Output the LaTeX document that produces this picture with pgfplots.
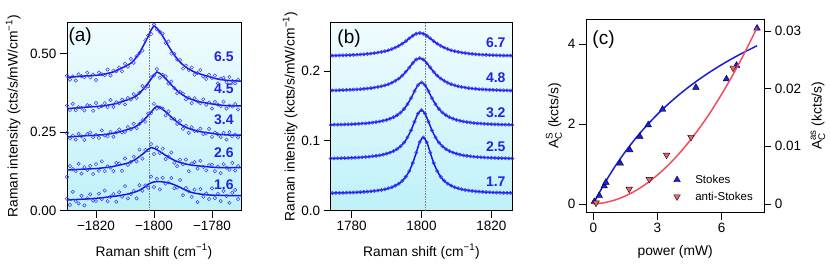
\documentclass[border=0pt]{standalone}
\usepackage{fontspec}
\setmainfont{Liberation Sans}
\usepackage{amsmath}
\usepackage{pgfplots}
\usepackage{pgfplotstable}
\pgfplotsset{compat=1.18}
\definecolor{bgtop}{RGB}{241,252,254}
\definecolor{bgbot}{RGB}{190,241,249}
\definecolor{ptblue}{RGB}{55,55,255}
\definecolor{lnblue}{RGB}{25,25,225}
\definecolor{lblblue}{RGB}{35,35,230}
\definecolor{sblue}{RGB}{30,30,235}
\definecolor{asred}{RGB}{240,95,105}
\definecolor{lnred}{RGB}{245,75,90}
\newcommand\tfont{\fontsize{13.5}{15}\selectfont}
\newcommand\lfont{\fontsize{13.8}{16}\selectfont}
\newcommand\nfont{\fontsize{14}{16}\selectfont\bfseries}
\newcommand\pfont{\fontsize{19}{21}\selectfont}
\newcommand\Aq[1]{$\text{A}^{\text{#1}}_{\text{C}}$}

\pgfplotsset{
 base/.style={
  scale only axis,
  axis line style={black, line width=0.8pt},
  tick style={black, line width=0.8pt},
  major tick length=7pt,
  tick align=outside,
  ticklabel style={font=\tfont},
  scaled ticks=false,
  /pgf/number format/assume math mode=true,
 },
 panel/.style={
  base,
  xtick pos=left, ytick pos=left,
  axis background/.style={top color=bgtop, bottom color=bgbot},
 },
 pts/.style={only marks, mark=o, mark size=1.7pt, ptblue, mark options={line width=0.5pt}},
 fitl/.style={lnblue, line width=1.5pt},
 dash/.style={gray, densely dotted, line width=0.6pt},
}

% panel (a) tables: x fit dat
\pgfplotstableread{
x fit dat
-1830 0.4240 0.4290
-1829 0.4247 0.4167
-1828 0.4253 0.4273
-1827 0.4260 0.4140
-1826 0.4266 0.4336
-1825 0.4276 0.4276
-1824 0.4282 0.4242
-1823 0.4287 0.4387
-1822 0.4292 0.4232
-1821 0.4299 0.4329
-1820 0.4305 0.4155
-1819 0.4312 0.4392
-1818 0.4326 0.4336
-1817 0.4345 0.4315
-1816 0.4365 0.4485
-1815 0.4389 0.4299
-1814 0.4412 0.4452
-1813 0.4453 0.4433
-1812 0.4493 0.4553
-1811 0.4542 0.4432
-1810 0.4583 0.4673
-1809 0.4632 0.4582
-1808 0.4689 0.4829
-1807 0.4772 0.4702
-1806 0.4889 0.4909
-1805 0.5023 0.5013
-1804 0.5191 0.5091
-1803 0.5359 0.5419
-1802 0.5544 0.5574
-1801 0.5746 0.5616
-1800 0.5880 0.5920
-1799 0.5810 0.5770
-1798 0.5689 0.5689
-1797 0.5551 0.5631
-1796 0.5396 0.5336
-1795 0.5233 0.5383
-1794 0.5086 0.4996
-1793 0.4948 0.4988
-1792 0.4827 0.4807
-1791 0.4723 0.4793
-1790 0.4636 0.4516
-1789 0.4566 0.4616
-1788 0.4505 0.4475
-1787 0.4452 0.4552
-1786 0.4407 0.4327
-1785 0.4371 0.4381
-1784 0.4344 0.4474
-1783 0.4316 0.4266
-1782 0.4289 0.4189
-1781 0.4261 0.4321
-1780 0.4234 0.4214
-1779 0.4206 0.4296
-1778 0.4187 0.4047
-1777 0.4171 0.4201
-1776 0.4159 0.4229
-1775 0.4147 0.4087
-1774 0.4140 0.4250
-1773 0.4133 0.4123
-1772 0.4127 0.4047
-1771 0.4124 0.4164
-1770 0.4120 nan
}\taA
\pgfplotstableread{
x fit dat
-1830 0.3250 0.3340
-1829 0.3251 0.3201
-1828 0.3259 0.3399
-1827 0.3265 0.3195
-1826 0.3272 0.3292
-1825 0.3279 0.3269
-1824 0.3288 0.3188
-1823 0.3295 0.3355
-1822 0.3301 0.3331
-1821 0.3307 0.3177
-1820 0.3313 0.3423
-1819 0.3321 0.3281
-1818 0.3328 0.3328
-1817 0.3340 0.3420
-1816 0.3355 0.3295
-1815 0.3371 0.3521
-1814 0.3389 0.3299
-1813 0.3407 0.3447
-1812 0.3436 0.3416
-1811 0.3465 0.3535
-1810 0.3501 0.3381
-1809 0.3530 0.3580
-1808 0.3565 0.3535
-1807 0.3606 0.3706
-1806 0.3663 0.3583
-1805 0.3742 0.3752
-1804 0.3834 0.3964
-1803 0.3947 0.3897
-1802 0.4060 0.3960
-1801 0.4185 0.4245
-1800 0.4320 0.4300
-1799 0.4411 0.4501
-1798 0.4368 0.4228
-1797 0.4291 0.4321
-1796 0.4202 0.4272
-1795 0.4103 0.4043
-1794 0.3998 0.4108
-1793 0.3904 0.3894
-1792 0.3816 0.3736
-1791 0.3739 0.3779
-1790 0.3673 0.3723
-1789 0.3619 0.3539
-1788 0.3575 0.3595
-1787 0.3537 0.3417
-1786 0.3505 0.3575
-1785 0.3478 0.3478
-1784 0.3457 0.3417
-1783 0.3442 0.3542
-1782 0.3426 0.3366
-1781 0.3410 0.3440
-1780 0.3395 0.3245
-1779 0.3380 0.3460
-1778 0.3364 0.3374
-1777 0.3355 0.3325
-1776 0.3347 0.3467
-1775 0.3341 0.3251
-1774 0.3336 0.3340
-1773 0.3334 0.3314
-1772 0.3331 0.3391
-1771 0.3330 0.3220
-1770 0.3330 nan
}\taB
\pgfplotstableread{
x fit dat
-1830 0.2350 0.2470
-1829 0.2351 0.2301
-1828 0.2357 0.2387
-1827 0.2362 0.2262
-1826 0.2367 0.2447
-1825 0.2373 0.2363
-1824 0.2381 0.2251
-1823 0.2386 0.2436
-1822 0.2391 0.2491
-1821 0.2395 0.2335
-1820 0.2401 0.2421
-1819 0.2407 0.2317
-1818 0.2412 0.2552
-1817 0.2423 0.2393
-1816 0.2435 0.2365
-1815 0.2448 0.2508
-1814 0.2463 0.2353
-1813 0.2478 0.2488
-1812 0.2503 0.2583
-1811 0.2528 0.2488
-1810 0.2557 0.2507
-1809 0.2581 0.2661
-1808 0.2610 0.2590
-1807 0.2645 0.2765
-1806 0.2693 0.2623
-1805 0.2761 0.2761
-1804 0.2838 0.2878
-1803 0.2933 0.2833
-1802 0.3029 0.3089
-1801 0.3134 0.3104
-1800 0.3249 0.3399
-1799 0.3326 0.3246
-1798 0.3289 0.3279
-1797 0.3223 0.3253
-1796 0.3148 0.3028
-1795 0.3063 0.3153
-1794 0.2974 0.2934
-1793 0.2894 0.2914
-1792 0.2819 0.2759
-1791 0.2753 0.2863
-1790 0.2697 0.2607
-1789 0.2650 0.2700
-1788 0.2613 0.2473
-1787 0.2581 0.2651
-1786 0.2553 0.2533
-1785 0.2530 0.2540
-1784 0.2512 0.2612
-1783 0.2498 0.2438
-1782 0.2485 0.2455
-1781 0.2472 0.2602
-1780 0.2459 0.2349
-1779 0.2444 0.2484
-1778 0.2431 0.2431
-1777 0.2423 0.2343
-1776 0.2416 0.2476
-1775 0.2411 0.2261
-1774 0.2406 0.2496
-1773 0.2404 0.2364
-1772 0.2402 0.2422
-1771 0.2401 0.2331
-1770 0.2400 nan
}\taC
\pgfplotstableread{
x fit dat
-1830 0.1293 0.1073
-1829 0.1298 0.1418
-1828 0.1303 0.1323
-1827 0.1308 0.1258
-1826 0.1313 0.1493
-1825 0.1319 0.1179
-1824 0.1322 0.1382
-1823 0.1326 0.1296
-1822 0.1332 0.1422
-1821 0.1336 0.1166
-1820 0.1340 0.1480
-1819 0.1349 0.1269
-1818 0.1358 0.1568
-1817 0.1368 0.1258
-1816 0.1380 0.1410
-1815 0.1392 0.1372
-1814 0.1410 0.1260
-1813 0.1429 0.1519
-1812 0.1450 0.1500
-1811 0.1468 0.1268
-1810 0.1490 0.1660
-1809 0.1515 0.1455
-1808 0.1550 0.1550
-1807 0.1600 0.1720
-1806 0.1655 0.1565
-1805 0.1724 0.1944
-1804 0.1794 0.1654
-1803 0.1870 0.1930
-1802 0.1953 0.1923
-1801 0.2009 0.2119
-1800 0.1983 0.1803
-1799 0.1936 0.2016
-1798 0.1884 0.1834
-1797 0.1824 0.1974
-1796 0.1760 0.1640
-1795 0.1704 0.1724
-1794 0.1651 0.1851
-1793 0.1604 0.1524
-1792 0.1565 0.1415
-1791 0.1532 0.1622
-1790 0.1506 0.1476
-1789 0.1484 0.1624
-1788 0.1465 0.1255
-1787 0.1449 0.1499
-1786 0.1437 0.1547
-1785 0.1428 0.1338
-1784 0.1419 0.1589
-1783 0.1411 0.1391
-1782 0.1402 0.1282
-1781 0.1392 0.1452
-1780 0.1384 0.1464
-1779 0.1378 0.1258
-1778 0.1374 0.1404
-1777 0.1372 0.1192
-1776 0.1369 0.1479
-1775 0.1368 0.1368
-1774 0.1367 0.1307
-1773 0.1367 0.1517
-1772 0.1367 0.1277
-1771 0.1368 0.1418
-1770 0.1368 nan
}\taD
\pgfplotstableread{
x fit dat
-1830 0.0340 0.0380
-1829 0.0345 0.0185
-1828 0.0350 0.0600
-1827 0.0355 0.0305
-1826 0.0360 0.0230
-1825 0.0365 0.0475
-1824 0.0370 0.0170
-1823 0.0375 0.0395
-1822 0.0380 0.0520
-1821 0.0387 0.0317
-1820 0.0393 0.0303
-1819 0.0402 0.0542
-1818 0.0412 0.0372
-1817 0.0422 0.0642
-1816 0.0433 0.0303
-1815 0.0445 0.0445
-1814 0.0456 0.0526
-1813 0.0467 0.0287
-1812 0.0480 0.0590
-1811 0.0495 0.0445
-1810 0.0510 0.0780
-1809 0.0530 0.0390
-1808 0.0553 0.0533
-1807 0.0580 0.0630
-1806 0.0612 0.0392
-1805 0.0650 0.0810
-1804 0.0705 0.0635
-1803 0.0765 0.0805
-1802 0.0840 0.0730
-1801 0.0885 0.1085
-1800 0.0915 0.0755
-1799 0.0925 0.1015
-1798 0.0925 0.0675
-1797 0.0917 0.1047
-1796 0.0902 0.0862
-1795 0.0883 0.0903
-1794 0.0860 0.1040
-1793 0.0823 0.0713
-1792 0.0786 0.0736
-1791 0.0745 0.0975
-1790 0.0695 0.0495
-1789 0.0648 0.0718
-1788 0.0612 0.0612
-1787 0.0580 0.0440
-1786 0.0558 0.0668
-1785 0.0542 0.0272
-1784 0.0528 0.0688
-1783 0.0517 0.0447
-1782 0.0508 0.0548
-1781 0.0500 0.0370
-1780 0.0495 0.0715
-1779 0.0490 0.0400
-1778 0.0488 0.0538
-1777 0.0486 0.0306
-1776 0.0485 0.0625
-1775 0.0484 0.0464
-1774 0.0483 0.0253
-1773 0.0482 0.0572
-1772 0.0481 0.0661
-1771 0.0480 0.0370
-1770 0.0480 nan
}\taE

% panel (b) tables
\pgfplotstableread{
x y
1773.5 0.2220
1774.5 0.2221
1775.5 0.2222
1776.5 0.2223
1777.5 0.2225
1778.5 0.2227
1779.5 0.2229
1780.5 0.2231
1781.5 0.2234
1782.5 0.2237
1783.5 0.2241
1784.5 0.2245
1785.5 0.2250
1786.5 0.2257
1787.5 0.2264
1788.5 0.2273
1789.5 0.2284
1790.5 0.2297
1791.5 0.2314
1792.5 0.2335
1793.5 0.2360
1794.5 0.2391
1795.5 0.2427
1796.5 0.2467
1797.5 0.2505
1798.5 0.2534
1799.5 0.2545
1800.5 0.2534
1801.5 0.2505
1802.5 0.2467
1803.5 0.2427
1804.5 0.2391
1805.5 0.2360
1806.5 0.2335
1807.5 0.2314
1808.5 0.2297
1809.5 0.2284
1810.5 0.2273
1811.5 0.2264
1812.5 0.2257
1813.5 0.2250
1814.5 0.2245
1815.5 0.2241
1816.5 0.2237
1817.5 0.2234
1818.5 0.2231
1819.5 0.2229
1820.5 0.2227
1821.5 0.2225
1822.5 0.2223
1823.5 0.2222
1824.5 0.2221
1825.5 0.2220
1826.5 0.2220
}\tbA
\pgfplotstableread{
x y
1773.5 0.1721
1774.5 0.1722
1775.5 0.1723
1776.5 0.1725
1777.5 0.1727
1778.5 0.1729
1779.5 0.1731
1780.5 0.1734
1781.5 0.1737
1782.5 0.1740
1783.5 0.1745
1784.5 0.1750
1785.5 0.1755
1786.5 0.1763
1787.5 0.1771
1788.5 0.1782
1789.5 0.1795
1790.5 0.1811
1791.5 0.1832
1792.5 0.1859
1793.5 0.1892
1794.5 0.1935
1795.5 0.1988
1796.5 0.2050
1797.5 0.2114
1798.5 0.2165
1799.5 0.2185
1800.5 0.2165
1801.5 0.2114
1802.5 0.2050
1803.5 0.1988
1804.5 0.1935
1805.5 0.1892
1806.5 0.1859
1807.5 0.1832
1808.5 0.1811
1809.5 0.1795
1810.5 0.1782
1811.5 0.1771
1812.5 0.1763
1813.5 0.1755
1814.5 0.1750
1815.5 0.1745
1816.5 0.1740
1817.5 0.1737
1818.5 0.1734
1819.5 0.1731
1820.5 0.1729
1821.5 0.1727
1822.5 0.1725
1823.5 0.1723
1824.5 0.1722
1825.5 0.1721
1826.5 0.1721
}\tbB
\pgfplotstableread{
x y
1774 0.1229
1775 0.1231
1776 0.1232
1777 0.1233
1778 0.1235
1779 0.1237
1780 0.1239
1781 0.1241
1782 0.1244
1783 0.1248
1784 0.1251
1785 0.1256
1786 0.1262
1787 0.1269
1788 0.1277
1789 0.1287
1790 0.1300
1791 0.1317
1792 0.1339
1793 0.1368
1794 0.1406
1795 0.1457
1796 0.1525
1797 0.1612
1798 0.1711
1799 0.1799
1800 0.1835
1801 0.1799
1802 0.1711
1803 0.1612
1804 0.1525
1805 0.1457
1806 0.1406
1807 0.1368
1808 0.1339
1809 0.1317
1810 0.1300
1811 0.1287
1812 0.1277
1813 0.1269
1814 0.1262
1815 0.1256
1816 0.1251
1817 0.1248
1818 0.1244
1819 0.1241
1820 0.1239
1821 0.1237
1822 0.1235
1823 0.1233
1824 0.1232
1825 0.1231
1826 0.1229
}\tbC
\pgfplotstableread{
x y
1774 0.0748
1775 0.0749
1776 0.0751
1777 0.0752
1778 0.0753
1779 0.0755
1780 0.0757
1781 0.0759
1782 0.0762
1783 0.0765
1784 0.0769
1785 0.0773
1786 0.0779
1787 0.0785
1788 0.0793
1789 0.0803
1790 0.0816
1791 0.0832
1792 0.0854
1793 0.0882
1794 0.0922
1795 0.0976
1796 0.1050
1797 0.1151
1798 0.1274
1799 0.1390
1800 0.1440
1801 0.1390
1802 0.1274
1803 0.1151
1804 0.1050
1805 0.0976
1806 0.0922
1807 0.0882
1808 0.0854
1809 0.0832
1810 0.0816
1811 0.0803
1812 0.0793
1813 0.0785
1814 0.0779
1815 0.0773
1816 0.0769
1817 0.0765
1818 0.0762
1819 0.0759
1820 0.0757
1821 0.0755
1822 0.0753
1823 0.0752
1824 0.0751
1825 0.0749
1826 0.0748
}\tbD
\pgfplotstableread{
x y
1773.5 0.0252
1774.5 0.0253
1775.5 0.0254
1776.5 0.0255
1777.5 0.0256
1778.5 0.0258
1779.5 0.0260
1780.5 0.0261
1781.5 0.0264
1782.5 0.0266
1783.5 0.0269
1784.5 0.0273
1785.5 0.0277
1786.5 0.0283
1787.5 0.0289
1788.5 0.0297
1789.5 0.0307
1790.5 0.0320
1791.5 0.0336
1792.5 0.0358
1793.5 0.0387
1794.5 0.0428
1795.5 0.0486
1796.5 0.0568
1797.5 0.0683
1798.5 0.0832
1799.5 0.0982
1800.5 0.1050
1801.5 0.0982
1802.5 0.0832
1803.5 0.0683
1804.5 0.0568
1805.5 0.0486
1806.5 0.0428
1807.5 0.0387
1808.5 0.0358
1809.5 0.0336
1810.5 0.0320
1811.5 0.0307
1812.5 0.0297
1813.5 0.0289
1814.5 0.0283
1815.5 0.0277
1816.5 0.0273
1817.5 0.0269
1818.5 0.0266
1819.5 0.0264
1820.5 0.0261
1821.5 0.0260
1822.5 0.0258
1823.5 0.0256
1824.5 0.0255
1825.5 0.0254
1826.5 0.0253
}\tbE

\begin{document}
\begin{tikzpicture}
\path (0pt,0pt) rectangle (830pt,277pt);

% ---------------- panel (a)
\begin{axis}[panel, at={(67pt,66.3pt)}, anchor=south west,
  width=174pt, height=188.7pt,
  xmin=-1830, xmax=-1770, ymin=0, ymax=0.6,
  xtick={-1820,-1800,-1780}, xticklabels={−1820,−1800,−1780},
  ytick={0,0.25,0.5}, yticklabels={0.00,0.25,0.50},
  xlabel={Raman shift (cm\textsuperscript{−1})},
  ylabel={Raman intensity (cts/s/mW/cm\textsuperscript{−1})},
  every axis x label/.style={at={(axis description cs:0.5,-0.217)}, anchor=center, font=\lfont},
  every axis y label/.style={at={(axis description cs:-0.31,0.5)}, rotate=90, anchor=center, font=\lfont}]
\addplot[dash] coordinates {(-1801.5,0) (-1801.5,0.6)};
\addplot[pts] table[x=x,y=dat]{\taA};
\addplot[pts] table[x=x,y=dat]{\taB};
\addplot[pts] table[x=x,y=dat]{\taC};
\addplot[pts] table[x=x,y=dat]{\taD};
\addplot[pts] table[x=x,y=dat]{\taE};
\addplot[fitl] table[x=x,y=fit]{\taA};
\addplot[fitl] table[x=x,y=fit]{\taB};
\addplot[fitl] table[x=x,y=fit]{\taC};
\addplot[fitl] table[x=x,y=fit]{\taD};
\addplot[fitl] table[x=x,y=fit]{\taE};
\node[anchor=east, inner sep=0pt, font=\nfont, text=lblblue] at (axis cs:-1772.5,0.491) {6.5};
\node[anchor=east, inner sep=0pt, font=\nfont, text=lblblue] at (axis cs:-1772.5,0.389) {4.5};
\node[anchor=east, inner sep=0pt, font=\nfont, text=lblblue] at (axis cs:-1772.5,0.288) {3.4};
\node[anchor=east, inner sep=0pt, font=\nfont, text=lblblue] at (axis cs:-1772.5,0.184) {2.6};
\node[anchor=east, inner sep=0pt, font=\nfont, text=lblblue] at (axis cs:-1772.5,0.082) {1.6};
\node[anchor=west, inner sep=0pt, font=\pfont] at (rel axis cs:0.008,0.922) {(a)};
\end{axis}

% ---------------- panel (b)
\begin{axis}[panel, at={(330.7pt,66.3pt)}, anchor=south west,
  width=181.6pt, height=188.7pt,
  xmin=1774, xmax=1826, ymin=0, ymax=0.2702,
  xtick={1780,1800,1820}, xticklabels={1780,1800,1820},
  ytick={0,0.1,0.2}, yticklabels={0.0,0.1,0.2},
  xlabel={Raman shift (cm\textsuperscript{−1})},
  ylabel={Raman intensity (kcts/s/mW/cm\textsuperscript{−1})},
  every axis x label/.style={at={(axis description cs:0.5,-0.217)}, anchor=center, font=\lfont},
  every axis y label/.style={at={(axis description cs:-0.224,0.5)}, rotate=90, anchor=center, font=\lfont}]
\addplot[dash] coordinates {(1801,0) (1801,0.2702)};
\addplot[pts] table[x=x,y=y]{\tbA};
\addplot[pts] table[x=x,y=y]{\tbB};
\addplot[pts] table[x=x,y=y]{\tbC};
\addplot[pts] table[x=x,y=y]{\tbD};
\addplot[pts] table[x=x,y=y]{\tbE};
\addplot[fitl, smooth] table[x=x,y=y]{\tbA};
\addplot[fitl, smooth] table[x=x,y=y]{\tbB};
\addplot[fitl, smooth] table[x=x,y=y]{\tbC};
\addplot[fitl, smooth] table[x=x,y=y]{\tbD};
\addplot[fitl, smooth] table[x=x,y=y]{\tbE};
\node[anchor=east, inner sep=0pt, font=\nfont, text=lblblue] at (axis cs:1824.1,0.241) {6.7};
\node[anchor=east, inner sep=0pt, font=\nfont, text=lblblue] at (axis cs:1824.1,0.190) {4.8};
\node[anchor=east, inner sep=0pt, font=\nfont, text=lblblue] at (axis cs:1824.1,0.1406) {3.2};
\node[anchor=east, inner sep=0pt, font=\nfont, text=lblblue] at (axis cs:1824.1,0.0914) {2.5};
\node[anchor=east, inner sep=0pt, font=\nfont, text=lblblue] at (axis cs:1824.1,0.0414) {1.7};
\node[anchor=west, inner sep=0pt, font=\pfont] at (rel axis cs:0.036,0.914) {(b)};
\end{axis}

% ---------------- panel (c) left axis (Stokes)
\begin{axis}[base, xtick pos=left, ytick pos=left,
  at={(586pt,64.3pt)}, anchor=south west,
  width=178.3pt, height=193.7pt,
  xmin=-0.34, xmax=8.0, ymin=-0.218, ymax=4.633,
  xtick={0,3,6}, xticklabels={0,3,6},
  ytick={0,2,4}, yticklabels={0,2,4},
  xlabel={power (mW)},
  ylabel={\Aq{S} (kcts/s)},
  every axis x label/.style={at={(axis description cs:0.5,-0.201)}, anchor=center, font=\lfont},
  every axis y label/.style={at={(axis description cs:-0.18,0.5)}, rotate=90, anchor=center, font=\lfont}]
\addplot[lnblue, line width=1.5pt, smooth] coordinates {
(0,0) (0.5,0.4923) (1,0.9262) (1.5,1.3115) (2,1.6559) (2.5,1.9655) (3,2.2456)
(3.5,2.4999) (4,2.732) (4.5,2.9445) (5,3.1401) (5.5,3.3204) (6,3.4875)
(6.5,3.6423) (7,3.7866) (7.5,3.9211) (7.66,3.9624)};
\addplot[only marks, mark=triangle*, mark size=3.8pt, mark options={fill=sblue, draw=black, line width=0.4pt}] coordinates {
(0.05,0.06) (0.28,0.21) (0.51,0.45) (0.59,0.54) (1.26,1.02) (1.71,1.35) (2.18,1.69)
(2.57,1.98) (3.24,2.37) (4.80,2.92) (6.23,3.13) (6.70,3.47) (7.66,4.40)};
\node[anchor=west, inner sep=0pt, font=\pfont] at (rel axis cs:0.035,0.895) {(c)};
\end{axis}

% ---------------- panel (c) right axis (anti-Stokes)
\begin{axis}[base,
  at={(586pt,64.3pt)}, anchor=south west,
  width=178.3pt, height=193.7pt,
  xmin=-0.34, xmax=8.0, ymin=-0.00151, ymax=0.03208,
  axis x line=none, axis y line*=right,
  ytick={0,0.01,0.02,0.03}, yticklabels={0,0.01,0.02,0.03},
  ylabel={\Aq{as} (kcts/s)},
  every axis y label/.style={at={(axis description cs:1.301,0.5)}, rotate=90, anchor=center, font=\lfont},
  legend style={draw=none, fill=none, inner sep=0pt, at={(rel axis cs:0.486,0.2065)}, anchor=north west,
    font=\fontsize{11.5}{13}\selectfont, row sep=3pt},
  legend cell align=left,
  legend image code/.code={\draw[#1] plot coordinates {(0pt,0pt)}; \path (-4pt,0pt) (16pt,0pt);}]
\addlegendimage{only marks, mark=triangle*, mark size=3.8pt, mark options={fill=sblue, draw=black, line width=0.4pt}}
\addlegendentry{Stokes}
\addplot[only marks, mark=triangle*, mark size=3.8pt, mark options={rotate=180, fill=asred, draw=black, line width=0.4pt}] coordinates {
(0.13,0.0002) (1.68,0.0026) (2.62,0.0043) (3.43,0.0085) (4.57,0.0116) (6.54,0.0236)};
\addlegendentry{anti-Stokes}
\addplot[lnred, line width=1.5pt, smooth, forget plot] coordinates {
(0,0) (0.5,0.000214) (1,0.000676) (1.5,0.00139) (2,0.00235) (2.5,0.00356) (3,0.00502)
(3.5,0.00672) (4,0.00868) (4.5,0.01089) (5,0.01334) (5.5,0.01604) (6,0.019)
(6.5,0.0222) (7,0.02565) (7.5,0.02935) (7.66,0.03058)};
\end{axis}
\end{tikzpicture}
\end{document}
